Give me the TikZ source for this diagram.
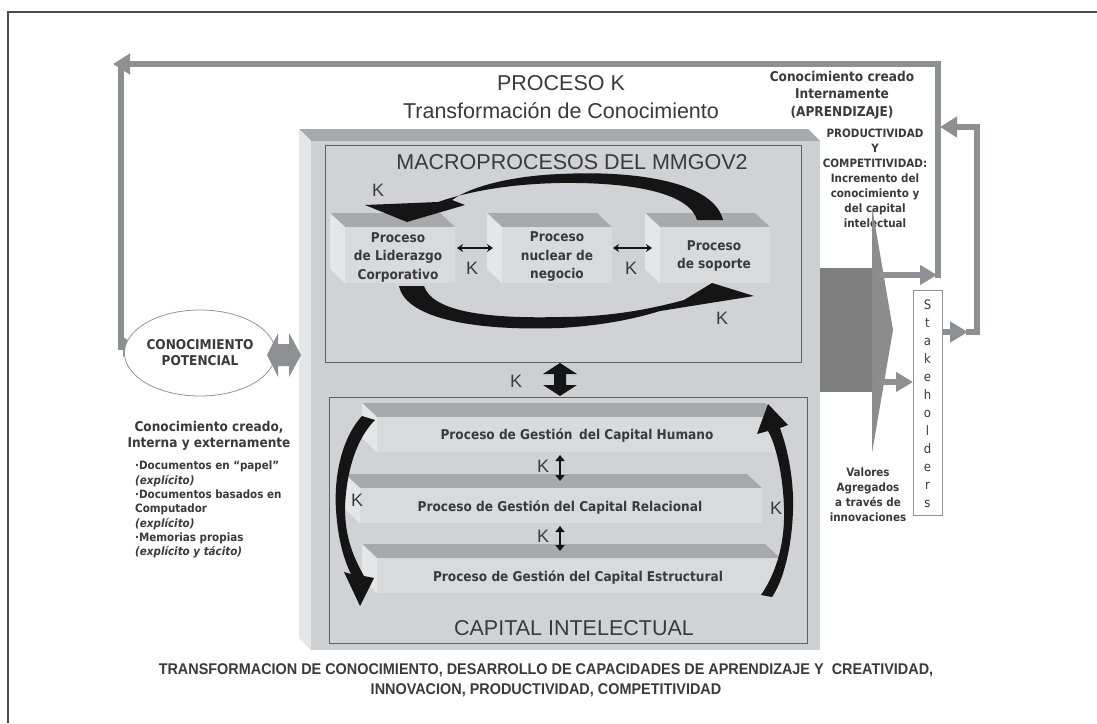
\documentclass[tikz,border=0pt]{standalone}
\usepackage{fontspec}
\setmainfont{Liberation Sans}
\newfontfamily\dvc{DejaVu Sans Condensed}
\newfontfamily\narrowf[FakeStretch=0.93]{Liberation Sans}
\usetikzlibrary{arrows.meta,shapes.geometric}
\definecolor{txt}{HTML}{3A3A3A}
\definecolor{facec}{HTML}{CDD0D3}
\definecolor{topc}{HTML}{A7A9AC}
\definecolor{sidec}{HTML}{E4E6E8}
\definecolor{innerc}{HTML}{D0D2D5}
\definecolor{slabc}{HTML}{D8DADC}
\definecolor{loopc}{HTML}{8E8F93}
\definecolor{blockc}{HTML}{7E7E7E}
\definecolor{headc}{HTML}{8C8C8C}
\definecolor{framec}{HTML}{4A4A4A}
\definecolor{arcc}{HTML}{151515}
% x y w h dx dy frontcolour
\newcommand{\mybox}[7]{%
  \fill[topc] (#1-#5,#2-#6) -- (#1+#3-#5,#2-#6) -- (#1+#3,#2) -- (#1,#2) -- cycle;
  \fill[sidec] (#1-#5,#2-#6) -- (#1,#2) -- (#1,#2+#4) -- (#1-#5,#2+#4-#6) -- cycle;
  \fill[#7] (#1,#2) rectangle (#1+#3,#2+#4);
}
\begin{document}
\begin{tikzpicture}[x=1pt,y=-1pt,
  bigt/.style={font=\fontsize{21.5}{28}\selectfont, text=txt, inner sep=0, align=center},
  klab/.style={font=\fontsize{18}{20}\selectfont, text=txt, inner sep=0},
  boxt/.style={font=\dvc\bfseries\fontsize{13.5}{18.5}\selectfont, text=txt, align=center, inner sep=0},
  smallt/.style={font=\dvc\bfseries\fontsize{11.5}{15}\selectfont, text=txt, align=center, inner sep=0},
  loopl/.style={draw=loopc, line width=6pt},
  arcshape/.style={fill=arcc},
  thinarr/.style={draw=arcc, line width=1.6pt, {Stealth[length=6pt,width=8pt]}-{Stealth[length=6pt,width=8pt]}},
  frameline/.style={draw=framec, line width=1.2pt}
]
\useasboundingbox (0,0) rectangle (1097,723);
\fill[white] (0,0) rectangle (1097,723);
% frame
\draw[frameline] (8,723) -- (8,12) -- (1097,12);

% outer loop
\draw[loopl, -{Triangle[length=17pt,width=20pt]}] (938,278) -- (938,64) -- (113,64);
\draw[loopl, -{Triangle[length=15pt,width=19pt]}] (121,61) -- (121,347) -- (138,347);

% main box
\mybox{311}{141}{509}{509}{12}{12}{facec}
\draw[draw=gray!75!black, line width=0.8pt, fill=innerc] (325,145) rectangle (801,362);
\draw[draw=gray!75!black, line width=0.8pt, fill=innerc] (329,397) rectangle (807,643);

% upper process boxes
\mybox{345}{227}{110}{56}{15}{14}{slabc}
\mybox{502}{227}{110}{56}{15}{14}{slabc}
\mybox{660}{227}{110}{56}{15}{14}{slabc}

% slabs
\mybox{377}{417}{403}{35}{15}{14}{slabc}
\mybox{360}{488}{402}{35}{15}{14}{slabc}
\mybox{377}{558}{403}{35}{15}{14}{slabc}

% titles
\node[bigt] (proc) at (561,97) {PROCESO K\\Transformación de Conocimiento};
\node[bigt] (macro) at (572,162) {MACROPROCESOS DEL MMGOV2};
\node[bigt] (capint) at (574,628) {CAPITAL INTELECTUAL};

% process box texts
\node[boxt] (pl) at (398,257) {Proceso\\de Liderazgo\\Corporativo};
\node[boxt] (pn) at (557,257) {Proceso\\nuclear de\\negocio};
\node[boxt] (ps) at (714,256) {Proceso\\de soporte};
\draw[thinarr] (457,248) -- (493,248);
\draw[thinarr] (613,248) -- (652,248);
\node[klab] (k12) at (472,268) {K};
\node[klab] (k23) at (631,268) {K};

% top arc (soporte -> liderazgo)
\fill[arcshape] (723,220) .. controls (714,183) and (640,170) .. (560,174)
  .. controls (510,176) and (470,187) .. (452,200)
  -- (465,205) -- (407,222) -- (365,205) -- (438,202)
  .. controls (470,191) and (510,184) .. (560,183)
  .. controls (640,182) and (690,195) .. (697,220) -- cycle;
\node[klab] (ktop) at (378,190) {K};
% bottom arc (liderazgo -> soporte)
\fill[arcshape] (399,286) .. controls (406,320) and (480,331) .. (560,328)
  .. controls (610,325) and (640,317) .. (660,311)
  -- (754,296) -- (712,283) -- (684,300)
  .. controls (640,312) and (600,317) .. (560,317)
  .. controls (480,319) and (432,310) .. (424,286) -- cycle;
\node[klab] (kbot) at (722,318) {K};

% big double arrow between boxes
\fill[arcc] (560,363) -- (543,374) -- (554,374) -- (554,385) -- (543,385) -- (560,396)
  -- (577,385) -- (566,385) -- (566,374) -- (577,374) -- cycle;
\node[klab] (kmid) at (516,381) {K};

% slab texts
\node[boxt] (s1) at (577,435) {Proceso de Gestión\, del Capital Humano};
\node[boxt] (s2) at (560,507) {Proceso de Gestión del Capital Relacional};
\node[boxt] (s3) at (578,577) {Proceso de Gestión del Capital Estructural};
\draw[draw=arcc, line width=2.2pt, {Triangle[length=6pt,width=9pt]}-{Triangle[length=6pt,width=9pt]}] (560,455) -- (560,481);
\draw[draw=arcc, line width=2.2pt, {Triangle[length=6pt,width=9pt]}-{Triangle[length=6pt,width=9pt]}] (560,526) -- (560,551);
\node[klab] (ks1) at (543,466) {K};
\node[klab] (ks2) at (543,536) {K};

% left side arrow (down)
\fill[arcshape] (362,416) .. controls (340,440) and (334,480) .. (336,510)
  .. controls (338,540) and (344,560) .. (351,574)
  -- (344,572) -- (360,606) -- (374,578) -- (364,576)
  .. controls (352,555) and (345,535) .. (345,508)
  .. controls (346,475) and (355,440) .. (375,420) -- cycle;
\node[klab] (kl) at (357,500) {K};
% right side arrow (up)
\fill[arcshape] (761,595) .. controls (778,570) and (785,540) .. (784,508)
  .. controls (783,475) and (776,445) .. (768,431)
  -- (757,434) -- (768,404) -- (788,425) -- (780,428)
  .. controls (788,450) and (794,480) .. (793,510)
  .. controls (792,545) and (784,580) .. (772,597) -- cycle;
\node[klab] (kr) at (776,508) {K};

% ellipse and grey double arrow
\node[ellipse, draw=gray!85, fill=white, line width=0.8pt, minimum width=132pt, minimum height=86pt,
  inner sep=0, font=\dvc\bfseries\fontsize{13.5}{16}\selectfont, text=txt, align=center] (pot) at (200,353) {CONOCIMIENTO\\POTENCIAL};
\fill[loopc] (267,355) -- (278,333) -- (278,344) -- (289,344) -- (289,333) -- (301,355)
  -- (289,377) -- (289,366) -- (278,366) -- (278,377) -- cycle;

% left texts
\node[font=\dvc\bfseries\fontsize{13.5}{15.5}\selectfont, text=txt, align=center, inner sep=0] (cci2) at (209,436) {Conocimiento creado,\\Interna y externamente};
\node[anchor=north west, inner sep=0, align=left, font=\dvc\bfseries\fontsize{11.5}{14.3}\selectfont, text=txt] (docs) at (135,461)
  {·Documentos en “papel”\\\textit{(explícito)}\\·Documentos basados en\\Computador\\\textit{(explícito)}\\·Memorias propias\\\textit{(explícito y tácito)}};

% right side
\node[font=\dvc\bfseries\fontsize{13.5}{17.5}\selectfont, text=txt, align=center, inner sep=0] (cci) at (842,95) {Conocimiento creado\\Internamente\\(APRENDIZAJE)};
\node[smallt] (prod) at (875,178) {PRODUCTIVIDAD\\Y\\COMPETITIVIDAD:\\Incremento del\\conocimiento y\\del capital\\intelectual};

% big grey arrow out of the main box
\fill[blockc] (820,268) rectangle (874,392);
\fill[headc] (872,207) -- (893,330) -- (872,453) -- cycle;
\draw[loopl, -{Triangle[length=17pt,width=19pt]}] (878,275) -- (937,275);
\draw[loopl, -{Triangle[length=17pt,width=19pt]}] (878,382) -- (913,382);

% stakeholders
\node[draw=gray!85, fill=white, line width=0.8pt, minimum width=29pt, minimum height=225pt, inner sep=0] (stk) at (927.5,402.5) {};
\node[font=\dvc\fontsize{13}{18}\selectfont, text=txt, align=center, inner sep=0] (stkt) at (927.5,404) {S\\t\\a\\k\\e\\h\\o\\l\\d\\e\\r\\s};
\draw[loopl, -{Triangle[length=18pt,width=20pt]}] (942,332) -- (968,332);
\draw[loopl, -{Triangle[length=17pt,width=20pt]}] (966,332) -- (977,332) -- (977,127) -- (940,127);

\node[smallt] (val) at (868,495) {Valores\\Agregados\\a través de\\innovaciones};

% caption
\node[font=\narrowf\bfseries\fontsize{15.5}{20}\selectfont, text=txt, align=center, inner sep=0] (cap) at (546,680)
  {TRANSFORMACION DE CONOCIMIENTO, DESARROLLO DE CAPACIDADES DE APRENDIZAJE Y\ \ CREATIVIDAD,\\INNOVACION, PRODUCTIVIDAD, COMPETITIVIDAD};
\end{tikzpicture}
\end{document}
